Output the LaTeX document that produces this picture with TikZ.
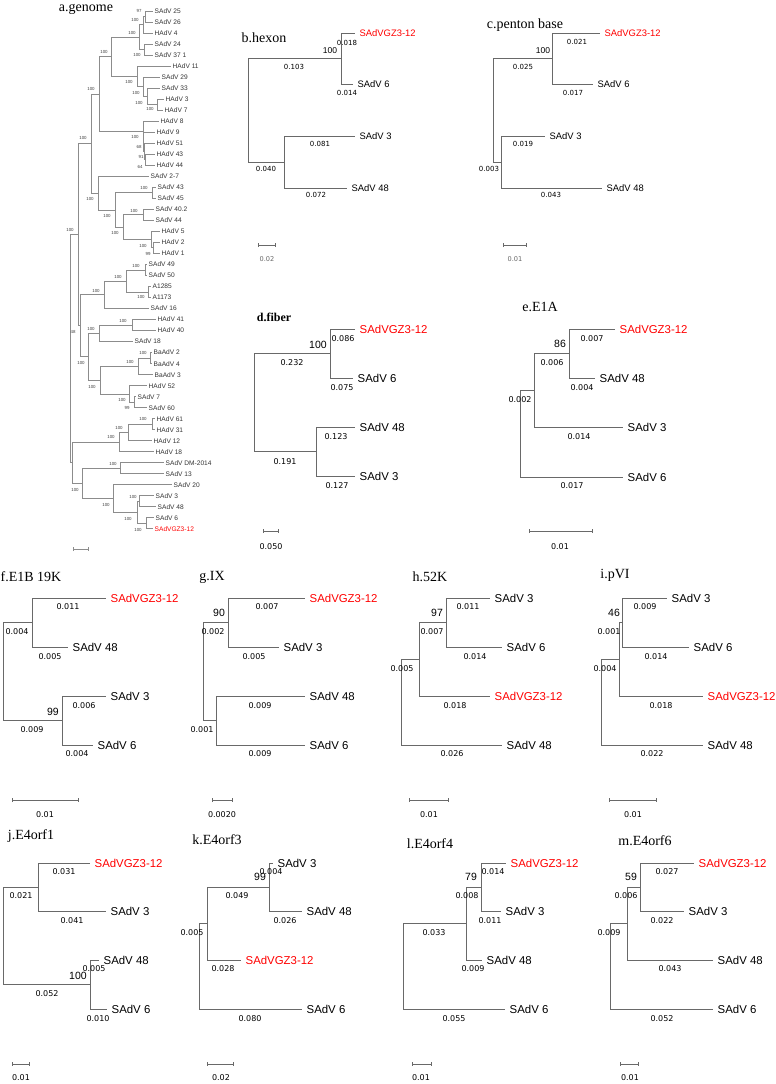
\documentclass[tikz,border=0pt]{standalone}
\usepackage{fontspec}
\setmainfont{Liberation Serif}
\newfontfamily\arialf{Liberation Sans}
\newfontfamily\tahf{DejaVu Sans}
\usetikzlibrary{arrows.meta}
\definecolor{treegray}{RGB}{105,105,105}
\definecolor{genogray}{RGB}{140,140,140}
\definecolor{gzred}{RGB}{255,0,0}
\tikzset{
  br/.style={draw=treegray, line width=0.8pt},
  gbr/.style={draw=genogray, line width=0.9pt},
  ptitle/.style={inner sep=0pt, font=\fontsize{14}{16}\selectfont},
  taxon/.style={anchor=west, inner xsep=4.5pt, inner ysep=0pt, font=\arialf\fontsize{11.4}{12}\selectfont},
  taxsm/.style={taxon, font=\arialf\fontsize{9.4}{10}\selectfont},
  boot/.style={inner sep=0pt, font=\arialf\fontsize{10.5}{11}\selectfont},
  bootsm/.style={boot, font=\arialf\fontsize{8.5}{9}\selectfont},
  blen/.style={inner sep=0pt, font=\tahf\fontsize{8}{9}\selectfont},
  blensm/.style={blen, font=\tahf\fontsize{7}{8}\selectfont},
  sbar/.style={draw=treegray, line width=0.7pt, {Bar[width=4pt]}-{Bar[width=4pt]}},
  slab/.style={inner sep=0pt, font=\tahf\fontsize{8}{9}\selectfont},
  slabsm/.style={slab, text=black!60, font=\tahf\fontsize{6.6}{7}\selectfont},
  gtip/.style={anchor=west, inner xsep=1.5pt, inner ysep=0pt, text=black!80, font=\arialf\fontsize{6.6}{7}\selectfont},
  gboot/.style={inner sep=0pt, text=black!75, font=\arialf\fontsize{4.4}{5}\selectfont},
}
\begin{document}
\begin{tikzpicture}[x=1pt, y=-1pt]
  \useasboundingbox (0,0) rectangle (776,1084);
  % a: genome
  \node[ptitle] (a-ti) at (86,9) {a.genome};
  \foreach \n/\x/\y in {a-A1/145/16.5, a-A2/143/24.75, a-A3/139/37.15, a-A4/144/49.55,
      a-D3/157/104.7, a-D2/147/96.4, a-D1/143/86.75, a-C/137/76.4, a-B/111/56.8,
      a-E3/145/159.8, a-E2/144/151.5, a-E1/143.5/141.85, a-E0/143/131.5, a-N1/99/94.15,
      a-F/152/192.8, a-G1/143/214.9, a-H2/153/247.9, a-H1/151/239.65, a-N4/123/227.3,
      a-N3/115/210.05, a-N2/98/193.2, a-N0/91/143.7,
      a-I1/145/270, a-I2/148/292, a-I3/126/281, a-R1/104/294.75,
      a-J1/132/325.1, a-J2/99/333.35, a-K1/150/358.1, a-K2/138/366.4,
      a-L1/134/402.2, a-L2/129/393.95, a-K3/100/380.2, a-Q2/88/356.8, a-Q/80/325.8,
      a-P1/78/234.75, a-M1/152/424.25, a-M2/128/432.5, a-M3/119/442.15,
      a-O1/120/468.3, a-O2/139/501.4, a-O3/146/523.4, a-O4/137/512.4, a-O5/113/498.65,
      a-O6/82/483.5, a-R2/72/462.8, a-Rt/70/348.8}
    \coordinate (\n) at (\x,\y);
  \foreach \u/\v in {a-A2/a-A1, a-A3/a-A2, a-A3/a-A4, a-B/a-A3, a-B/a-C, a-C/a-D1,
      a-D1/a-D2, a-D2/a-D3, a-N1/a-B, a-N1/a-E0, a-E0/a-E1, a-E1/a-E2, a-E2/a-E3,
      a-N0/a-N1, a-N0/a-N2, a-N2/a-N3, a-N3/a-F, a-N3/a-N4, a-N4/a-G1, a-N4/a-H1,
      a-H1/a-H2, a-P1/a-N0, a-P1/a-Q, a-Q/a-R1, a-Q/a-Q2, a-R1/a-I3, a-I3/a-I1,
      a-I3/a-I2, a-Q2/a-J2, a-Q2/a-K3, a-J2/a-J1, a-K3/a-K2, a-K3/a-L2, a-K2/a-K1,
      a-L2/a-L1, a-Rt/a-P1, a-Rt/a-R2, a-R2/a-M3, a-R2/a-O6, a-M3/a-M2, a-M2/a-M1,
      a-O6/a-O1, a-O6/a-O5, a-O5/a-O4, a-O4/a-O2, a-O4/a-O3}
    \draw[gbr] (\u) |- (\v);
  \foreach \p/\i/\x/\t in {a-A1/0/153/SAdV 25, a-A1/1/153/SAdV 26, a-A2/2/153/HAdV 4,
      a-A4/3/153/SAdV 24, a-A4/4/153/SAdV 37 1, a-C/5/171/HAdV 11, a-D1/6/160/SAdV 29,
      a-D2/7/160/SAdV 33, a-D3/8/164/HAdV 3, a-D3/9/163/HAdV 7, a-E0/10/159/HAdV 8,
      a-E1/11/155/HAdV 9, a-E2/12/155/HAdV 51, a-E3/13/155/HAdV 43, a-E3/14/155/HAdV 44,
      a-N2/15/149/SAdV 2-7, a-F/16/156/SAdV 43, a-F/17/156/SAdV 45, a-G1/18/154/SAdV 40.2,
      a-G1/19/154/SAdV 44, a-H1/20/160/HAdV 5, a-H2/21/160/HAdV 2, a-H2/22/160/HAdV 1,
      a-I1/23/147/SAdV 49, a-I1/24/147/SAdV 50, a-I2/25/151/A1285, a-I2/26/151/A1173,
      a-R1/27/149/SAdV 16, a-J1/28/156/HAdV 41, a-J1/29/156/HAdV 40, a-J2/30/133/SAdV 18,
      a-K1/31/152/BaAdV 2, a-K1/32/152/BaAdV 4, a-K2/33/153/BaAdV 3, a-L2/34/147/HAdV 52,
      a-L1/35/136/SAdV 7, a-L1/36/147/SAdV 60, a-M1/37/155/HAdV 61, a-M1/38/155/HAdV 31,
      a-M2/39/152/HAdV 12, a-M3/40/154/HAdV 18, a-O1/41/164/SAdV DM-2014,
      a-O1/42/164/SAdV 13, a-O5/43/172/SAdV 20, a-O2/44/154/SAdV 3, a-O2/45/156/SAdV 48,
      a-O3/46/154/SAdV 6}
  {
    \node[gtip] (a-t\i) at (\x,11+11.02*\i) {\t};
    \draw[gbr] (\p) |- (a-t\i.west);
  }
  \node[gtip, text=gzred] (a-t47) at (153,528.9) {SAdVGZ3-12};
  \draw[gbr] (a-O3) |- (a-t47.west);
  \foreach \x/\y/\t [count=\k] in {139/11/97, 135/20/100, 132/33/100, 137/55/100,
      150/109/100, 139/103/100, 136/93/100, 129/82/100, 104/52/100, 135/137/100,
      139/147/68, 141/157/91, 140/167/64, 91/89/100, 144/188/100, 134/211/100,
      148/254/99, 143/246/100, 115/233/100, 107/216/100, 90/199/100, 83/138/100,
      136/266/100, 141/297/100, 118/277/100, 96/291/100, 123/321/100, 91/329/100,
      143/353/100, 130/362/100, 127/408/99, 122/400/100, 92/387/100, 81/363/100,
      73/332/48, 70/230/100, 143/419/100, 119/428/100, 111/437/100, 113/464/100,
      133/497/100, 138/530/100, 128/519/100, 106/505/100, 75/490/100}
    \node[gboot] (a-b\k) at (\x,\y) {\t};
  \coordinate (a-s0) at (73,549); \coordinate (a-s1) at (89,549);
  \draw[sbar, draw=genogray] (a-s0) -- (a-s1);

  % b: hexon
  \node[ptitle] (b-ti) at (264,38) {b.hexon};
  \coordinate (b-r) at (248,110.25);
  \coordinate (b-n1) at (341,58.5);
  \coordinate (b-n2) at (284,162);
  \node[taxsm, text=gzred] (b-gz) at (355,33) {SAdVGZ3-12};
  \node[taxsm] (b-s6) at (353,84) {SAdV 6};
  \node[taxsm] (b-s3) at (355,136) {SAdV 3};
  \node[taxsm] (b-s48) at (347,188) {SAdV 48};
  \draw[br] (b-r) |- (b-n1) (b-r) |- (b-n2)
    (b-n1) |- (b-gz.west) (b-n1) |- (b-s6.west)
    (b-n2) |- (b-s3.west) (b-n2) |- (b-s48.west);
  \node[bootsm] (b-bs) at (330,51) {100};
  \foreach \x/\y/\t [count=\k] in {347/43/0.018, 294/67/0.103, 347/93/0.014,
      320/144/0.081, 266/169/0.040, 316/195/0.072}
    \node[blensm] (b-l\k) at (\x,\y) {\t};
  \coordinate (b-s0) at (258,245); \coordinate (b-s1) at (276,245);
  \draw[sbar] (b-s0) -- (b-s1);
  \node[slabsm] (b-sl) at (267,259) {0.02};

  % c: penton base
  \node[ptitle] (c-ti) at (525,25) {c.penton base};
  \coordinate (c-r) at (493,110.25);
  \coordinate (c-n1) at (552,58.5);
  \coordinate (c-n2) at (501,162);
  \node[taxsm, text=gzred] (c-gz) at (600,33) {SAdVGZ3-12};
  \node[taxsm] (c-s6) at (593,84) {SAdV 6};
  \node[taxsm] (c-s3) at (545,136) {SAdV 3};
  \node[taxsm] (c-s48) at (602,188) {SAdV 48};
  \draw[br] (c-r) |- (c-n1) (c-r) |- (c-n2)
    (c-n1) |- (c-gz.west) (c-n1) |- (c-s6.west)
    (c-n2) |- (c-s3.west) (c-n2) |- (c-s48.west);
  \node[bootsm] (c-bs) at (543,51) {100};
  \foreach \x/\y/\t [count=\k] in {577/42/0.021, 523/67/0.025, 573/93/0.017,
      523/144/0.019, 489/169/0.003, 551/195/0.043}
    \node[blensm] (c-l\k) at (\x,\y) {\t};
  \coordinate (c-s0) at (503,245); \coordinate (c-s1) at (527,245);
  \draw[sbar] (c-s0) -- (c-s1);
  \node[slabsm] (c-sl) at (515,259) {0.01};

  % d: fiber
  \node[ptitle, font=\bfseries\fontsize{12}{14}\selectfont] (d-ti) at (274,317) {d.fiber};
  \coordinate (d-r) at (254,402.5);
  \coordinate (d-n1) at (330,353.5);
  \coordinate (d-n2) at (316,451.5);
  \node[taxon, text=gzred] (d-gz) at (355,329) {SAdVGZ3-12};
  \node[taxon] (d-s6) at (353,378) {SAdV 6};
  \node[taxon] (d-s48) at (355,427) {SAdV 48};
  \node[taxon] (d-s3) at (355,476) {SAdV 3};
  \draw[br] (d-r) |- (d-n1) (d-r) |- (d-n2)
    (d-n1) |- (d-gz.west) (d-n1) |- (d-s6.west)
    (d-n2) |- (d-s48.west) (d-n2) |- (d-s3.west);
  \node[boot] (d-bs) at (318,345) {100};
  \foreach \x/\y/\t [count=\k] in {343/339/0.086, 292/363/0.232, 342/388/0.075,
      336/437/0.123, 285/462/0.191, 337/486/0.127}
    \node[blen] (d-l\k) at (\x,\y) {\t};
  \coordinate (d-s0) at (263,531); \coordinate (d-s1) at (279,531);
  \draw[sbar] (d-s0) -- (d-s1);
  \node[slab] (d-sl) at (271,547) {0.050};

  % e: E1A
  \node[ptitle] (e-ti) at (540,307) {e.E1A};
  \coordinate (e-r) at (520,433.6);
  \coordinate (e-n2) at (534,390.25);
  \coordinate (e-n3) at (569,353.5);
  \node[taxon, text=gzred] (e-gz) at (615,329) {SAdVGZ3-12};
  \node[taxon] (e-s48) at (595,378) {SAdV 48};
  \node[taxon] (e-s3) at (623,427) {SAdV 3};
  \node[taxon] (e-s6) at (623,477) {SAdV 6};
  \draw[br] (e-r) |- (e-n2) (e-r) |- (e-s6.west)
    (e-n2) |- (e-n3) (e-n2) |- (e-s3.west)
    (e-n3) |- (e-gz.west) (e-n3) |- (e-s48.west);
  \node[boot] (e-bs) at (560,344) {86};
  \foreach \x/\y/\t [count=\k] in {592/339/0.007, 552/363/0.006, 582/388/0.004,
      520/400/0.002, 579/437/0.014, 572/486/0.017}
    \node[blen] (e-l\k) at (\x,\y) {\t};
  \coordinate (e-s0) at (529,531); \coordinate (e-s1) at (593,531);
  \draw[sbar] (e-s0) -- (e-s1);
  \node[slab] (e-sl) at (560,547) {0.01};

  % f: E1B 19K
  \node[ptitle] (f-ti) at (31,577) {f.E1B 19K};
  \coordinate (f-r) at (3,671.5);
  \coordinate (f-n1) at (32,622.5);
  \coordinate (f-n2) at (62,720.5);
  \node[taxon, text=gzred] (f-gz) at (106,598) {SAdVGZ3-12};
  \node[taxon] (f-s48) at (68,647) {SAdV 48};
  \node[taxon] (f-s3) at (106,696) {SAdV 3};
  \node[taxon] (f-s6) at (93,745) {SAdV 6};
  \draw[br] (f-r) |- (f-n1) (f-r) |- (f-n2)
    (f-n1) |- (f-gz.west) (f-n1) |- (f-s48.west)
    (f-n2) |- (f-s3.west) (f-n2) |- (f-s6.west);
  \node[boot] (f-bs) at (53,712) {99};
  \foreach \x/\y/\t [count=\k] in {68/607/0.011, 17/632/0.004, 50/657/0.005,
      84/706/0.006, 32/730/0.009, 77/754/0.004}
    \node[blen] (f-l\k) at (\x,\y) {\t};
  \coordinate (f-s0) at (12,800); \coordinate (f-s1) at (79,800);
  \draw[sbar] (f-s0) -- (f-s1);
  \node[slab] (f-sl) at (45,815) {0.01};

  % g: IX
  \node[ptitle] (g-ti) at (212,577) {g.IX};
  \coordinate (g-r) at (203,671.5);
  \coordinate (g-n1) at (228,622.5);
  \coordinate (g-n2) at (216,720.5);
  \node[taxon, text=gzred] (g-gz) at (305,598) {SAdVGZ3-12};
  \node[taxon] (g-s3) at (279,647) {SAdV 3};
  \node[taxon] (g-s48) at (305,696) {SAdV 48};
  \node[taxon] (g-s6) at (305,745) {SAdV 6};
  \draw[br] (g-r) |- (g-n1) (g-r) |- (g-n2)
    (g-n1) |- (g-gz.west) (g-n1) |- (g-s3.west)
    (g-n2) |- (g-s48.west) (g-n2) |- (g-s6.west);
  \node[boot] (g-bs) at (219,613) {90};
  \foreach \x/\y/\t [count=\k] in {267/607/0.007, 213/632/0.002, 254/657/0.005,
      260/706/0.009, 202/730/0.001, 260/754/0.009}
    \node[blen] (g-l\k) at (\x,\y) {\t};
  \coordinate (g-s0) at (212,800); \coordinate (g-s1) at (233,800);
  \draw[sbar] (g-s0) -- (g-s1);
  \node[slab] (g-sl) at (222,815) {0.0020};

  % h: 52K
  \node[ptitle] (h-ti) at (430,577) {h.52K};
  \coordinate (h-r) at (401,702.1);
  \coordinate (h-n2) at (419,659.25);
  \coordinate (h-n3) at (446,622.5);
  \node[taxon] (h-s3) at (490,598) {SAdV 3};
  \node[taxon] (h-s6) at (502,647) {SAdV 6};
  \node[taxon, text=gzred] (h-gz) at (490,696) {SAdVGZ3-12};
  \node[taxon] (h-s48) at (502,745) {SAdV 48};
  \draw[br] (h-r) |- (h-n2) (h-r) |- (h-s48.west)
    (h-n2) |- (h-n3) (h-n2) |- (h-gz.west)
    (h-n3) |- (h-s3.west) (h-n3) |- (h-s6.west);
  \node[boot] (h-bs) at (437,613) {97};
  \foreach \x/\y/\t [count=\k] in {468/607/0.011, 432/632/0.007, 475/657/0.014,
      402/669/0.005, 455/706/0.018, 452/754/0.026}
    \node[blen] (h-l\k) at (\x,\y) {\t};
  \coordinate (h-s0) at (409,800); \coordinate (h-s1) at (449,800);
  \draw[sbar] (h-s0) -- (h-s1);
  \node[slab] (h-sl) at (429,815) {0.01};

  % i: pVI
  \node[ptitle] (i-ti) at (615,575) {i.pVI};
  \coordinate (i-r) at (601,702.1);
  \coordinate (i-n2) at (619,659.25);
  \coordinate (i-n3) at (622,622.5);
  \node[taxon] (i-s3) at (667,598) {SAdV 3};
  \node[taxon] (i-s6) at (689,647) {SAdV 6};
  \node[taxon, text=gzred] (i-gz) at (703,696) {SAdVGZ3-12};
  \node[taxon] (i-s48) at (703,745) {SAdV 48};
  \draw[br] (i-r) |- (i-n2) (i-r) |- (i-s48.west)
    (i-n2) |- (i-n3) (i-n2) |- (i-gz.west)
    (i-n3) |- (i-s3.west) (i-n3) |- (i-s6.west);
  \node[boot] (i-bs) at (614,613) {46};
  \foreach \x/\y/\t [count=\k] in {645/607/0.009, 609/632/0.001, 656/657/0.014,
      605/669/0.004, 661/706/0.018, 652/754/0.022}
    \node[blen] (i-l\k) at (\x,\y) {\t};
  \coordinate (i-s0) at (609,800); \coordinate (i-s1) at (657,800);
  \draw[sbar] (i-s0) -- (i-s1);
  \node[slab] (i-sl) at (633,815) {0.01};

  % j: E4orf1
  \node[ptitle] (j-ti) at (31,836) {j.E4orf1};
  \coordinate (j-r) at (3,935.75);
  \coordinate (j-n1) at (38,887);
  \coordinate (j-n2) at (90,984.5);
  \node[taxon, text=gzred] (j-gz) at (90,863) {SAdVGZ3-12};
  \node[taxon] (j-s3) at (106,911) {SAdV 3};
  \node[taxon] (j-s48) at (99,960) {SAdV 48};
  \node[taxon] (j-s6) at (107,1009) {SAdV 6};
  \draw[br] (j-r) |- (j-n1) (j-r) |- (j-n2)
    (j-n1) |- (j-gz.west) (j-n1) |- (j-s3.west)
    (j-n2) |- (j-s48.west) (j-n2) |- (j-s6.west);
  \node[boot] (j-bs) at (78,976) {100};
  \foreach \x/\y/\t [count=\k] in {64/872/0.031, 21/896/0.021, 72/921/0.041,
      94/969/0.005, 47/994/0.052, 98/1019/0.010}
    \node[blen] (j-l\k) at (\x,\y) {\t};
  \coordinate (j-s0) at (12,1064); \coordinate (j-s1) at (30,1064);
  \draw[sbar] (j-s0) -- (j-s1);
  \node[slab] (j-sl) at (21,1078) {0.01};

  % k: E4orf3
  \node[ptitle] (k-ti) at (217,840) {k.E4orf3};
  \coordinate (k-r) at (199,966.25);
  \coordinate (k-n2) at (207,923.5);
  \coordinate (k-n3) at (269,887);
  \node[taxon] (k-s3) at (273,863) {SAdV 3};
  \node[taxon] (k-s48) at (302,911) {SAdV 48};
  \node[taxon, text=gzred] (k-gz) at (241,960) {SAdVGZ3-12};
  \node[taxon] (k-s6) at (302,1009) {SAdV 6};
  \draw[br] (k-r) |- (k-n2) (k-r) |- (k-s6.west)
    (k-n2) |- (k-n3) (k-n2) |- (k-gz.west)
    (k-n3) |- (k-s3.west) (k-n3) |- (k-s48.west);
  \node[boot] (k-bs) at (260,877) {99};
  \foreach \x/\y/\t [count=\k] in {271/872/0.004, 237/896/0.049, 285/921/0.026,
      192/933/0.005, 223/969/0.028, 250/1019/0.080}
    \node[blen] (k-l\k) at (\x,\y) {\t};
  \coordinate (k-s0) at (207,1064); \coordinate (k-s1) at (234,1064);
  \draw[sbar] (k-s0) -- (k-s1);
  \node[slab] (k-sl) at (221,1078) {0.02};

  % l: E4orf4
  \node[ptitle] (l-ti) at (430,844) {l.E4orf4};
  \coordinate (l-r) at (403,966.25);
  \coordinate (l-n2) at (466,923.5);
  \coordinate (l-n3) at (481,887);
  \node[taxon, text=gzred] (l-gz) at (506,863) {SAdVGZ3-12};
  \node[taxon] (l-s3) at (501,911) {SAdV 3};
  \node[taxon] (l-s48) at (482,960) {SAdV 48};
  \node[taxon] (l-s6) at (505,1009) {SAdV 6};
  \draw[br] (l-r) |- (l-n2) (l-r) |- (l-s6.west)
    (l-n2) |- (l-n3) (l-n2) |- (l-s48.west)
    (l-n3) |- (l-gz.west) (l-n3) |- (l-s3.west);
  \node[boot] (l-bs) at (471,877) {79};
  \foreach \x/\y/\t [count=\k] in {493/872/0.014, 467/896/0.008, 490/921/0.011,
      434/933/0.033, 473/969/0.009, 454/1019/0.055}
    \node[blen] (l-l\k) at (\x,\y) {\t};
  \coordinate (l-s0) at (412,1064); \coordinate (l-s1) at (432,1064);
  \draw[sbar] (l-s0) -- (l-s1);
  \node[slab] (l-sl) at (421,1078) {0.01};

  % m: E4orf6
  \node[ptitle] (m-ti) at (645,841) {m.E4orf6};
  \coordinate (m-r) at (610,966.25);
  \coordinate (m-n2) at (627,923.5);
  \coordinate (m-n3) at (640,887);
  \node[taxon, text=gzred] (m-gz) at (694,863) {SAdVGZ3-12};
  \node[taxon] (m-s3) at (684,911) {SAdV 3};
  \node[taxon] (m-s48) at (713,960) {SAdV 48};
  \node[taxon] (m-s6) at (713,1009) {SAdV 6};
  \draw[br] (m-r) |- (m-n2) (m-r) |- (m-s6.west)
    (m-n2) |- (m-n3) (m-n2) |- (m-s48.west)
    (m-n3) |- (m-gz.west) (m-n3) |- (m-s3.west);
  \node[boot] (m-bs) at (631,877) {59};
  \foreach \x/\y/\t [count=\k] in {667/872/0.027, 626/896/0.006, 662/921/0.022,
      609/933/0.009, 670/969/0.043, 662/1019/0.052}
    \node[blen] (m-l\k) at (\x,\y) {\t};
  \coordinate (m-s0) at (620,1064); \coordinate (m-s1) at (639,1064);
  \draw[sbar] (m-s0) -- (m-s1);
  \node[slab] (m-sl) at (630,1078) {0.01};
\end{tikzpicture}
\end{document}
